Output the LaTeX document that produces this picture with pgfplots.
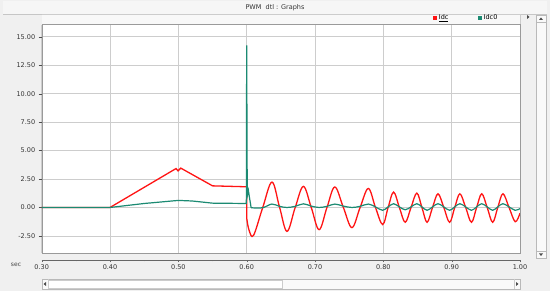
\documentclass[border=0pt]{standalone}
\usepackage{fontspec}
\setmainfont{DejaVu Sans}
\usepackage{pgfplots}
\pgfplotsset{compat=1.18}
\definecolor{winbg}{HTML}{F0F0F0}
\definecolor{gridc}{HTML}{CDCDCD}
\definecolor{framec}{HTML}{9A9A9A}
\definecolor{idc}{HTML}{FF1414}
\definecolor{idcz}{HTML}{1B8A72}

\begin{document}
\begin{tikzpicture}
\fill[winbg] (0,0) rectangle (550pt,291pt);
\useasboundingbox (0,0) rectangle (550pt,291pt);
% window chrome, in pixel coordinates (y down)
\begin{scope}[x=1pt,y=-1pt,yshift=291pt]
  \fill[white!40!winbg] (3,1) rectangle (547,14);
  \draw[gray!45] (3,14) -- (547,14);
  \node[font=\fontsize{6.5}{7}\selectfont, text=black!80] at (275,7.5) {PWM\ \ dtl : Graphs};
  \fill[white!50!winbg] (41.7,14) rectangle (520,24.7);
  \draw[gray!40] (41.7,14) -- (520,14) -- (520,24.7);
  \fill[white!60!winbg] (536,15) rectangle (546,258);
  \draw[gray!55] (536,15) rectangle (546,258);
  \draw[gray!55] (536,22) -- (546,22) (536,251) -- (546,251);
  \fill[black!70] (539,20) -- (543,20) -- (541,17.5) -- cycle;
  \fill[black!70] (539,253.5) -- (543,253.5) -- (541,256) -- cycle;
  \fill[black!70] (527,15) -- (527,19) -- (529.5,17) -- cycle;
  \fill[white!70!winbg] (42,279) rectangle (520,289);
  \draw[gray!55] (42,279) rectangle (520,289);
  \fill[white] (48,280) rectangle (282,288);
  \draw[gray!40] (48,280) rectangle (282,288);
  \draw[gray!40] (48,279) -- (48,289) (514,279) -- (514,289);
  \fill[black!70] (46,282) -- (46,286) -- (43.5,284) -- cycle;
  \fill[black!70] (516,282) -- (516,286) -- (518.5,284) -- cycle;
  \node[font=\fontsize{6}{7}\selectfont, text=black!75] at (16,265) {sec};
\end{scope}

% plot area
\begin{axis}[
  at={(41.7pt,38pt)}, anchor=south west,
  scale only axis, width=478.3pt, height=228.3pt,
  xmin=0.3, xmax=1.0, ymin=-4, ymax=16.06,
  axis background/.style={fill=white},
  axis line style={framec},
  xtick={0.3,0.4,0.5,0.6,0.7,0.8,0.9,1.0},
  xticklabels={},
  x tick style={draw=none},
  ytick={-2.5,0,2.5,5,7.5,10,12.5,15},
  ytick pos=left,
  tick align=outside,
  major tick length=3pt,
  y tick style={black!70},
  grid=major,
  major grid style={gridc, line width=0.7pt},
  yticklabel style={font=\fontsize{6.5}{7}\selectfont, text=black!80,
    /pgf/number format/fixed, /pgf/number format/fixed zerofill,
    /pgf/number format/precision=2, /pgf/number format/assume math mode=true},
  legend columns=2,
  legend style={at={(0.818,1)}, anchor=south west, yshift=0.5pt, draw=none, fill=none,
    inner sep=0.5pt, font=\fontsize{6.5}{7}\selectfont,
    /tikz/every even column/.append style={column sep=28pt}},
  legend image code/.code={\fill[#1, line width=0pt] (0pt,-1.6pt) rectangle (3.2pt,1.6pt);},
]
\addplot[idc, line width=1.3pt] coordinates {
  (0.30,0) (0.40,0) (0.4966,3.42) (0.4995,3.22) (0.5035,3.46) (0.55,1.9)
  (0.5985,1.82) (0.6000,1.82) (0.6002,-1.0)
};
\addlegendentry{\underline{Idc}}
\addplot[idc, line width=1.3pt, smooth, tension=0.6, forget plot] coordinates {
  (0.6002,-1.0) (0.6035,-2.0) (0.610,-2.45) (0.6235,0) (0.637,2.23) (0.648,0.05)
  (0.659,-2.1) (0.671,0) (0.683,1.85) (0.6945,0) (0.706,-1.95) (0.7175,0)
  (0.729,1.8) (0.7415,0) (0.754,-1.77) (0.766,0) (0.778,1.67) (0.7885,0)
  (0.799,-1.5) (0.807,0) (0.815,1.35) (0.8235,0) (0.832,-1.3) (0.8405,0)
  (0.849,1.26) (0.8565,0) (0.864,-1.3) (0.872,0) (0.880,1.2) (0.8885,0)
  (0.897,-1.3) (0.9045,0) (0.912,1.2) (0.9205,0) (0.929,-1.3) (0.9365,0)
  (0.944,1.2) (0.952,0) (0.960,-1.3) (0.9675,0) (0.975,1.2) (0.984,0)
  (0.993,-1.25) (1.000,-0.5)
};
\addplot[idcz, line width=1.2pt] coordinates {
  (0.30,0) (0.40,0) (0.45,0.35) (0.50,0.62) (0.52,0.57) (0.55,0.38)
  (0.5995,0.35) (0.6000,14.25) (0.6002,2.0) (0.6004,9.1) (0.6008,1.0)
  (0.6025,1.5) (0.6040,0.9) (0.6065,-0.02)
};
\addlegendentry{Idc0}
\addplot[idcz, line width=1.2pt, smooth, tension=0.6, forget plot] coordinates {
  (0.6065,-0.02) (0.615,-0.05) (0.625,0.0) (0.637,0.3) (0.648,0.1) (0.659,0.0)
  (0.671,0.1) (0.683,0.32) (0.6945,0.12) (0.706,0.0) (0.7175,0.1) (0.729,0.3)
  (0.7415,0.12) (0.754,0.0) (0.766,0.1) (0.778,0.3) (0.7885,0.05) (0.799,-0.25)
  (0.807,0.05) (0.815,0.33) (0.8235,0.05) (0.832,-0.2) (0.8405,0.05) (0.849,0.33)
  (0.8565,0.05) (0.864,-0.25) (0.872,0.05) (0.880,0.33) (0.8885,0.05) (0.897,-0.25)
  (0.9045,0.05) (0.912,0.33) (0.9205,0.05) (0.929,-0.25) (0.9365,0.05) (0.944,0.33)
  (0.952,0.05) (0.960,-0.25) (0.9675,0.05) (0.975,0.33) (0.984,0.05) (0.993,-0.25)
  (1.000,-0.1)
};
\end{axis}

% time scale strip
\begin{axis}[
  at={(41.7pt,31pt)}, anchor=south west,
  scale only axis, width=478.3pt, height=2pt,
  xmin=0.3, xmax=1.0, ymin=0, ymax=1,
  hide y axis, axis x line*=bottom,
  x axis line style={black!60},
  xtick={0.3,0.4,0.5,0.6,0.7,0.8,0.9,1.0},
  minor x tick num=1,
  tick align=outside,
  major tick length=2.5pt, minor tick length=1.5pt,
  x tick style={black!60},
  xticklabel style={font=\fontsize{6.5}{7}\selectfont, text=black!80, yshift=1pt,
    /pgf/number format/fixed, /pgf/number format/fixed zerofill,
    /pgf/number format/precision=2, /pgf/number format/assume math mode=true},
]
\addplot[draw=none] coordinates {(0.3,0) (1.0,0)};
\end{axis}
\end{tikzpicture}
\end{document}
